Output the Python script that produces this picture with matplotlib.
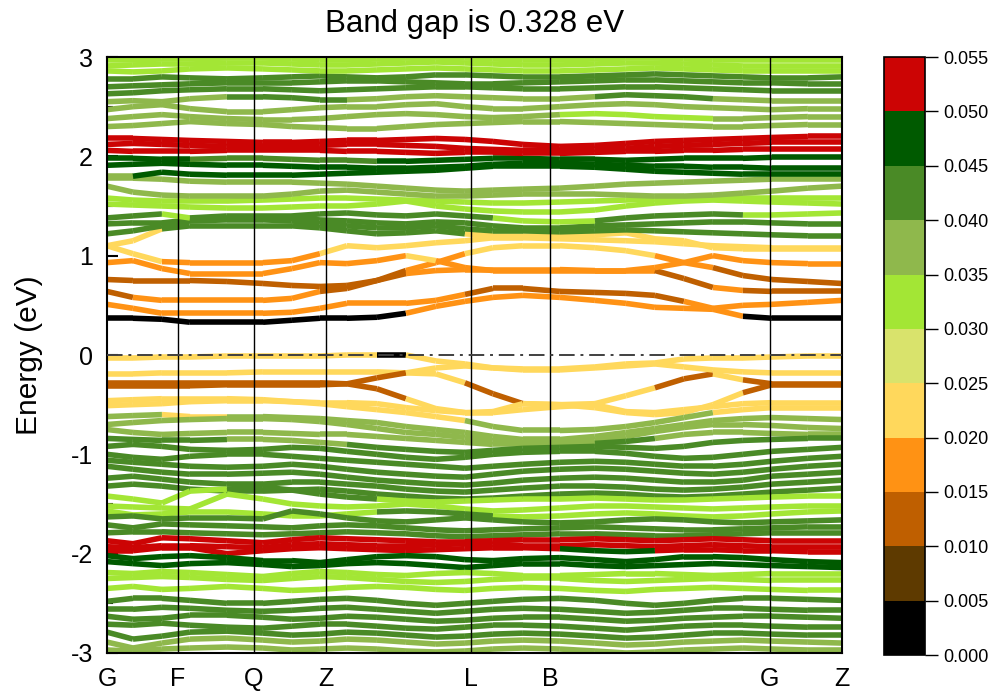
import numpy as np
import matplotlib.pyplot as plt
from matplotlib.collections import LineCollection
from matplotlib.colors import ListedColormap, BoundaryNorm
from matplotlib.cm import ScalarMappable
from matplotlib.ticker import MultipleLocator

plt.rcParams['font.family'] = ['Liberation Sans', 'DejaVu Sans']
plt.rcParams['axes.unicode_minus'] = False

# k-path sampling (path length along G-F-Q-Z-L-B-G-Z)
kdist = [0.00, 0.26, 0.55, 0.83, 1.20, 1.56, 1.85, 2.13, 2.40, 2.70, 2.99, 3.29, 3.58,
         3.86, 4.16, 4.53, 4.88, 5.19, 5.48, 5.77, 6.06, 6.36, 6.65, 7.01, 7.35]
kpoints = [0.00, 0.71, 1.47, 2.19, 3.64, 4.43, 6.63, 7.35]
klabels = ['G', 'F', 'Q', 'Z', 'L', 'B', 'G', 'Z']

weight_bounds = [0.000, 0.005, 0.010, 0.015, 0.020, 0.025, 0.030,
                 0.035, 0.040, 0.045, 0.050, 0.055]
weight_colors = ['#000000', '#5E3A00', '#BF5F00', '#FF9214', '#FFD85C', '#D9E36C',
                 '#A3E635', '#8FB84C', '#4A8A26', '#005A00', '#CC0404']
# one letter per segment -> projected weight (middle of its colour bin)
code_weight = {'k': 0.0025, 'd': 0.0075, 'b': 0.0125, 'o': 0.0175, 'y': 0.0225,
               'l': 0.0275, 'L': 0.0325, 'v': 0.0375, 'g': 0.0425, 'G': 0.0475,
               'r': 0.0525}

# conduction bands (eV) and weight codes of the 24 segments
cond_bands = [
    [0.37, 0.37, 0.36, 0.33, 0.33, 0.33, 0.35, 0.37, 0.37, 0.38, 0.42, 0.49, 0.54,
     0.58, 0.60, 0.58, 0.55, 0.52, 0.48, 0.47, 0.46, 0.39, 0.37, 0.37, 0.37],
    [0.51, 0.47, 0.42, 0.42, 0.42, 0.42, 0.43, 0.47, 0.52, 0.52, 0.52, 0.55, 0.61,
     0.67, 0.67, 0.64, 0.63, 0.62, 0.60, 0.54, 0.47, 0.50, 0.51, 0.53, 0.55],
    [0.64, 0.58, 0.55, 0.55, 0.55, 0.55, 0.57, 0.64, 0.67, 0.75, 0.85, 0.93, 1.02,
     1.08, 1.10, 1.10, 1.08, 1.05, 1.00, 0.93, 0.88, 0.80, 0.76, 0.74, 0.72],
    [0.76, 0.75, 0.75, 0.75, 0.74, 0.72, 0.70, 0.69, 0.70, 0.75, 0.82, 0.85, 0.86,
     0.86, 0.86, 0.86, 0.85, 0.85, 0.85, 0.77, 0.68, 0.65, 0.64, 0.64, 0.64],
    [0.93, 0.95, 0.87, 0.82, 0.82, 0.82, 0.87, 0.93, 0.92, 0.95, 1.00, 0.95, 0.88,
     0.85, 0.85, 0.85, 0.85, 0.85, 0.88, 0.93, 1.00, 0.95, 0.93, 0.92, 0.92],
    [1.10, 1.02, 0.94, 0.93, 0.93, 0.93, 0.95, 1.02, 1.10, 1.08, 1.10, 1.13, 1.15,
     1.18, 1.18, 1.17, 1.16, 1.15, 1.14, 1.12, 1.10, 1.09, 1.08, 1.08, 1.08],
    [1.10, 1.15, 1.27, 1.30, 1.30, 1.30, 1.30, 1.28, 1.25, 1.22, 1.23, 1.25, 1.22,
     1.20, 1.20, 1.20, 1.21, 1.23, 1.17, 1.15, 1.08, 1.07, 1.07, 1.07, 1.07],
    [1.22, 1.25, 1.30, 1.35, 1.36, 1.36, 1.35, 1.32, 1.30, 1.28, 1.28, 1.30, 1.27,
     1.25, 1.25, 1.24, 1.25, 1.26, 1.25, 1.24, 1.23, 1.22, 1.21, 1.20, 1.20],
    [1.32, 1.33, 1.33, 1.36, 1.38, 1.38, 1.38, 1.36, 1.35, 1.33, 1.32, 1.34, 1.33,
     1.30, 1.28, 1.28, 1.30, 1.31, 1.32, 1.33, 1.34, 1.34, 1.33, 1.32, 1.32],
    [1.38, 1.40, 1.42, 1.38, 1.40, 1.40, 1.40, 1.42, 1.43, 1.41, 1.40, 1.42, 1.40,
     1.38, 1.35, 1.34, 1.35, 1.38, 1.40, 1.41, 1.42, 1.41, 1.41, 1.42, 1.43],
    [1.52, 1.51, 1.50, 1.49, 1.48, 1.48, 1.49, 1.50, 1.50, 1.52, 1.55, 1.50, 1.47,
     1.45, 1.44, 1.44, 1.46, 1.50, 1.53, 1.55, 1.56, 1.55, 1.54, 1.53, 1.52],
    [1.58, 1.56, 1.55, 1.55, 1.55, 1.56, 1.57, 1.58, 1.58, 1.57, 1.56, 1.55, 1.54,
     1.53, 1.53, 1.54, 1.55, 1.56, 1.57, 1.58, 1.58, 1.58, 1.58, 1.58, 1.58],
    [1.70, 1.64, 1.61, 1.60, 1.60, 1.60, 1.62, 1.65, 1.66, 1.64, 1.62, 1.60, 1.60,
     1.61, 1.62, 1.62, 1.62, 1.61, 1.60, 1.60, 1.61, 1.63, 1.65, 1.68, 1.70],
    [1.78, 1.78, 1.77, 1.75, 1.74, 1.74, 1.74, 1.73, 1.72, 1.70, 1.68, 1.66, 1.65,
     1.66, 1.67, 1.68, 1.70, 1.72, 1.73, 1.74, 1.75, 1.76, 1.77, 1.77, 1.77],
    [1.80, 1.80, 1.84, 1.82, 1.81, 1.81, 1.81, 1.82, 1.83, 1.84, 1.85, 1.86, 1.88,
     1.90, 1.90, 1.90, 1.89, 1.87, 1.85, 1.84, 1.83, 1.82, 1.82, 1.82, 1.82],
    [1.91, 1.92, 1.93, 1.92, 1.91, 1.91, 1.90, 1.89, 1.89, 1.88, 1.88, 1.89, 1.90,
     1.92, 1.93, 1.93, 1.92, 1.91, 1.90, 1.90, 1.89, 1.89, 1.88, 1.88, 1.88],
    [1.98, 1.98, 1.97, 1.97, 1.98, 1.98, 1.97, 1.96, 1.96, 1.95, 1.95, 1.96, 1.97,
     1.98, 1.98, 1.97, 1.97, 1.96, 1.97, 1.98, 1.98, 1.98, 1.99, 1.99, 1.99],
    [2.06, 2.05, 2.05, 2.05, 2.06, 2.06, 2.06, 2.06, 2.05, 2.05, 2.04, 2.03, 2.04,
     2.04, 2.03, 2.03, 2.04, 2.05, 2.05, 2.06, 2.06, 2.07, 2.07, 2.07, 2.07],
    [2.12, 2.13, 2.12, 2.11, 2.10, 2.10, 2.10, 2.11, 2.12, 2.12, 2.11, 2.10, 2.08,
     2.07, 2.06, 2.06, 2.07, 2.08, 2.10, 2.11, 2.12, 2.13, 2.14, 2.14, 2.14],
    [2.18, 2.18, 2.17, 2.16, 2.15, 2.14, 2.14, 2.15, 2.16, 2.16, 2.17, 2.18, 2.17,
     2.15, 2.12, 2.10, 2.11, 2.13, 2.15, 2.16, 2.17, 2.18, 2.19, 2.20, 2.20],
    [2.30, 2.31, 2.33, 2.35, 2.33, 2.32, 2.30, 2.29, 2.28, 2.28, 2.30, 2.32, 2.33,
     2.34, 2.35, 2.35, 2.34, 2.33, 2.32, 2.31, 2.30, 2.30, 2.31, 2.32, 2.32],
    [2.38, 2.40, 2.42, 2.40, 2.38, 2.37, 2.37, 2.38, 2.40, 2.42, 2.43, 2.42, 2.40,
     2.39, 2.40, 2.42, 2.43, 2.42, 2.40, 2.39, 2.38, 2.38, 2.39, 2.40, 2.40],
    [2.47, 2.50, 2.52, 2.48, 2.45, 2.45, 2.47, 2.49, 2.50, 2.50, 2.52, 2.53, 2.50,
     2.48, 2.48, 2.50, 2.52, 2.53, 2.52, 2.50, 2.49, 2.48, 2.47, 2.48, 2.48],
    [2.55, 2.56, 2.55, 2.58, 2.60, 2.60, 2.59, 2.57, 2.57, 2.58, 2.60, 2.61, 2.60,
     2.59, 2.58, 2.58, 2.60, 2.62, 2.61, 2.60, 2.58, 2.57, 2.56, 2.56, 2.56],
    [2.63, 2.64, 2.66, 2.67, 2.68, 2.68, 2.67, 2.66, 2.67, 2.68, 2.69, 2.70, 2.70,
     2.69, 2.68, 2.68, 2.69, 2.70, 2.70, 2.69, 2.68, 2.67, 2.66, 2.66, 2.66],
    [2.70, 2.71, 2.72, 2.73, 2.74, 2.74, 2.74, 2.75, 2.76, 2.76, 2.75, 2.74, 2.73,
     2.73, 2.74, 2.75, 2.76, 2.77, 2.77, 2.76, 2.75, 2.74, 2.74, 2.73, 2.73],
    [2.78, 2.78, 2.80, 2.79, 2.78, 2.79, 2.80, 2.81, 2.80, 2.79, 2.80, 2.82, 2.82,
     2.81, 2.80, 2.80, 2.81, 2.82, 2.83, 2.82, 2.81, 2.80, 2.79, 2.79, 2.80],
    [2.86, 2.85, 2.86, 2.88, 2.89, 2.88, 2.87, 2.86, 2.86, 2.87, 2.88, 2.89, 2.88,
     2.87, 2.86, 2.86, 2.87, 2.88, 2.89, 2.88, 2.87, 2.86, 2.86, 2.86, 2.86],
    [2.91, 2.92, 2.93, 2.93, 2.94, 2.94, 2.93, 2.92, 2.92, 2.93, 2.94, 2.95, 2.94,
     2.93, 2.92, 2.92, 2.93, 2.94, 2.94, 2.93, 2.92, 2.91, 2.91, 2.91, 2.91],
    [2.97, 2.97, 2.98, 2.98, 2.99, 2.99, 2.98, 2.97, 2.97, 2.98, 2.99, 3.00, 2.99,
     2.98, 2.97, 2.97, 2.98, 2.99, 2.99, 2.98, 2.97, 2.97, 2.97, 2.97, 2.97],
]
cond_codes = [
    'kkkkkkkkkkoooooooooookkk',
    'oooooooooooobbbbbbbooooo',
    'boooooobbbooyyyyyyoobbbb',
    'bbbbbbbbbboooooooobbobbb',
    'ooooooooooyooooooooooooo',
    'yyoooooyyyyyyyyyyyyyyyyy',
    'yyggggggggggyyyyyyyyyyyy',
    'gggggggggggggggggggggggg',
    'gggggggggggggggggggggggg',
    'ggLggggggggggLLLgggggLLL',
    'LLLLLLLLLLLLLLLLLLLLLLLL',
    'LLLLLLLLLLLLLLLLLLLLLLLL',
    'vvvvvvvvvvvvvvvvvvvvvvvv',
    'vvvvvvvvvvvvvvvvvvvvvvvv',
    'vGGGGGGGGGGGGGGGGGGGGGGG',
    'GGGGGGGGGGGGGGGGGGGGGGGG',
    'GGGggggggGGGGGGGGGGGGGGG',
    'rrrrrrrrrrrrrrrrrrrrrrrr',
    'rrrrrrrrrrrrrrrrrrrrrrrr',
    'rrrrrrrrrrrrrrrrrrrrrrrr',
    'vvvvvvvvvvvvvvvvvvvvvvvv',
    'vvvvvvvvvvvvvvvLLLLLvvvv',
    'vvvvvvvvvvvvvvvvvvvvvvvv',
    'vvvvggggvvvvvvvvggggvvvv',
    'gggggggggggggggggggggggg',
    'gggggggggggggggggggggggg',
    'gggggggggggggggggggggggg',
    'LLLLLLLLLLLLLLLLLLLLLLLL',
    'LLLLLLLLLLLLLLLLLLLLLLLL',
    'LLLLLLLLLLLLLLLLLLLLLLLL',
]

# valence bands (eV) and weight codes
val_bands = [
    [-0.03, -0.03, -0.02, -0.02, -0.01, -0.01, -0.01, -0.01, 0.00, 0.00, 0.00, -0.06, -0.09,
     -0.13, -0.14, -0.14, -0.12, -0.09, -0.08, -0.04, -0.03, -0.03, -0.02, -0.01, -0.01],
    [-0.19, -0.19, -0.18, -0.18, -0.18, -0.17, -0.17, -0.17, -0.17, -0.17, -0.18, -0.19, -0.28,
     -0.39, -0.49, -0.50, -0.49, -0.41, -0.33, -0.24, -0.19, -0.25, -0.29, -0.29, -0.29],
    [-0.28, -0.28, -0.28, -0.28, -0.28, -0.28, -0.28, -0.28, -0.29, -0.23, -0.18, -0.13, -0.11,
     -0.13, -0.15, -0.15, -0.13, -0.11, -0.09, -0.12, -0.15, -0.17, -0.18, -0.18, -0.18],
    [-0.31, -0.31, -0.31, -0.31, -0.30, -0.30, -0.30, -0.30, -0.29, -0.34, -0.44, -0.54, -0.58,
     -0.58, -0.55, -0.52, -0.50, -0.57, -0.58, -0.55, -0.52, -0.49, -0.48, -0.48, -0.48],
    [-0.46, -0.45, -0.44, -0.44, -0.44, -0.45, -0.47, -0.48, -0.48, -0.49, -0.53, -0.56, -0.58,
     -0.57, -0.49, -0.50, -0.53, -0.58, -0.60, -0.58, -0.50, -0.38, -0.30, -0.30, -0.30],
    [-0.51, -0.50, -0.49, -0.47, -0.46, -0.46, -0.47, -0.49, -0.52, -0.55, -0.58, -0.62, -0.66,
     -0.72, -0.76, -0.76, -0.75, -0.72, -0.68, -0.63, -0.58, -0.55, -0.53, -0.53, -0.53],
    [-0.62, -0.61, -0.60, -0.62, -0.62, -0.62, -0.63, -0.64, -0.66, -0.68, -0.72, -0.75, -0.78,
     -0.82, -0.85, -0.85, -0.82, -0.78, -0.74, -0.70, -0.66, -0.64, -0.63, -0.64, -0.65],
    [-0.70, -0.68, -0.66, -0.65, -0.64, -0.64, -0.65, -0.67, -0.70, -0.74, -0.78, -0.80, -0.83,
     -0.86, -0.88, -0.88, -0.86, -0.82, -0.77, -0.73, -0.70, -0.70, -0.71, -0.73, -0.74],
    [-0.75, -0.78, -0.80, -0.79, -0.78, -0.78, -0.79, -0.80, -0.80, -0.82, -0.84, -0.86, -0.88,
     -0.90, -0.90, -0.90, -0.89, -0.87, -0.84, -0.80, -0.78, -0.78, -0.79, -0.80, -0.80],
    [-0.84, -0.85, -0.86, -0.86, -0.85, -0.85, -0.86, -0.88, -0.90, -0.93, -0.95, -0.97, -0.98,
     -0.96, -0.94, -0.93, -0.92, -0.93, -0.94, -0.92, -0.88, -0.86, -0.85, -0.84, -0.84],
    [-0.92, -0.90, -0.92, -0.95, -0.96, -0.95, -0.93, -0.94, -0.97, -1.00, -1.03, -1.05, -1.03,
     -1.00, -0.98, -0.97, -0.97, -0.99, -1.02, -1.04, -1.03, -1.00, -0.97, -0.95, -0.93],
    [-1.00, -1.03, -1.05, -1.02, -1.00, -1.00, -1.02, -1.04, -1.06, -1.08, -1.10, -1.12, -1.14,
     -1.12, -1.10, -1.08, -1.07, -1.08, -1.10, -1.12, -1.12, -1.10, -1.07, -1.04, -1.02],
    [-1.06, -1.08, -1.10, -1.12, -1.13, -1.12, -1.10, -1.12, -1.15, -1.18, -1.20, -1.22, -1.23,
     -1.20, -1.17, -1.15, -1.14, -1.15, -1.17, -1.19, -1.20, -1.18, -1.15, -1.12, -1.10],
    [-1.12, -1.15, -1.18, -1.20, -1.20, -1.19, -1.18, -1.20, -1.23, -1.26, -1.28, -1.30, -1.31,
     -1.29, -1.26, -1.24, -1.23, -1.24, -1.26, -1.28, -1.28, -1.26, -1.22, -1.20, -1.18],
    [-1.24, -1.22, -1.25, -1.28, -1.30, -1.30, -1.28, -1.28, -1.30, -1.32, -1.35, -1.37, -1.38,
     -1.36, -1.34, -1.32, -1.32, -1.33, -1.35, -1.36, -1.35, -1.33, -1.30, -1.28, -1.26],
    [-1.32, -1.30, -1.32, -1.35, -1.37, -1.37, -1.36, -1.35, -1.37, -1.40, -1.42, -1.44, -1.45,
     -1.44, -1.42, -1.40, -1.39, -1.40, -1.42, -1.43, -1.42, -1.40, -1.38, -1.36, -1.34],
    [-1.42, -1.45, -1.49, -1.37, -1.35, -1.33, -1.36, -1.40, -1.43, -1.45, -1.47, -1.48, -1.47,
     -1.46, -1.45, -1.45, -1.44, -1.45, -1.46, -1.46, -1.45, -1.44, -1.43, -1.42, -1.42],
    [-1.52, -1.53, -1.54, -1.55, -1.40, -1.45, -1.50, -1.52, -1.53, -1.52, -1.50, -1.52, -1.55,
     -1.57, -1.56, -1.54, -1.52, -1.52, -1.53, -1.54, -1.55, -1.54, -1.53, -1.52, -1.52],
    [-1.57, -1.61, -1.60, -1.58, -1.58, -1.60, -1.62, -1.62, -1.60, -1.58, -1.57, -1.58, -1.60,
     -1.62, -1.63, -1.62, -1.60, -1.59, -1.60, -1.62, -1.63, -1.62, -1.60, -1.58, -1.57],
    [-1.63, -1.62, -1.65, -1.64, -1.64, -1.65, -1.57, -1.60, -1.64, -1.67, -1.68, -1.66, -1.64,
     -1.66, -1.68, -1.69, -1.68, -1.66, -1.65, -1.66, -1.68, -1.69, -1.68, -1.67, -1.66],
    [-1.71, -1.74, -1.70, -1.71, -1.72, -1.73, -1.74, -1.72, -1.71, -1.72, -1.74, -1.76, -1.77,
     -1.76, -1.75, -1.74, -1.73, -1.74, -1.75, -1.76, -1.76, -1.75, -1.74, -1.73, -1.73],
    [-1.79, -1.78, -1.78, -1.79, -1.80, -1.81, -1.80, -1.79, -1.78, -1.79, -1.80, -1.82, -1.83,
     -1.82, -1.81, -1.80, -1.80, -1.81, -1.82, -1.82, -1.81, -1.80, -1.79, -1.79, -1.79],
    [-1.87, -1.90, -1.84, -1.85, -1.87, -1.89, -1.86, -1.84, -1.85, -1.86, -1.87, -1.88, -1.88,
     -1.87, -1.86, -1.86, -1.85, -1.86, -1.87, -1.86, -1.85, -1.86, -1.87, -1.87, -1.87],
    [-1.93, -1.94, -1.92, -1.92, -1.93, -1.94, -1.91, -1.90, -1.91, -1.92, -1.92, -1.91, -1.90,
     -1.91, -1.92, -1.92, -1.91, -1.92, -1.93, -1.92, -1.91, -1.92, -1.93, -1.93, -1.93],
    [-1.97, -1.97, -1.94, -1.94, -2.00, -1.97, -1.95, -1.94, -1.95, -1.96, -1.97, -1.96, -1.95,
     -1.94, -1.94, -1.95, -1.97, -1.98, -1.97, -1.96, -1.96, -1.97, -1.97, -1.98, -1.98],
    [-2.02, -2.05, -2.03, -2.02, -2.04, -2.07, -2.07, -2.09, -2.06, -2.03, -2.02, -2.03, -2.06,
     -2.07, -2.05, -2.04, -2.06, -2.08, -2.06, -2.03, -2.03, -2.04, -2.06, -2.08, -2.09],
    [-2.08, -2.10, -2.12, -2.10, -2.09, -2.11, -2.13, -2.12, -2.10, -2.09, -2.10, -2.12, -2.14,
     -2.12, -2.10, -2.10, -2.12, -2.13, -2.12, -2.11, -2.10, -2.11, -2.12, -2.13, -2.14],
    [-2.19, -2.20, -2.18, -2.19, -2.21, -2.23, -2.20, -2.18, -2.19, -2.21, -2.22, -2.20, -2.19,
     -2.20, -2.22, -2.22, -2.21, -2.20, -2.20, -2.21, -2.22, -2.21, -2.20, -2.20, -2.20],
    [-2.25, -2.24, -2.23, -2.24, -2.26, -2.27, -2.25, -2.23, -2.24, -2.26, -2.28, -2.29, -2.28,
     -2.26, -2.25, -2.25, -2.27, -2.28, -2.27, -2.26, -2.25, -2.26, -2.27, -2.27, -2.27],
    [-2.35, -2.33, -2.36, -2.35, -2.33, -2.35, -2.37, -2.36, -2.34, -2.33, -2.34, -2.36, -2.37,
     -2.35, -2.34, -2.35, -2.37, -2.38, -2.36, -2.35, -2.34, -2.35, -2.36, -2.37, -2.37],
    [-2.48, -2.45, -2.45, -2.47, -2.50, -2.50, -2.48, -2.46, -2.45, -2.47, -2.50, -2.52, -2.50,
     -2.48, -2.46, -2.45, -2.47, -2.50, -2.52, -2.50, -2.47, -2.45, -2.45, -2.46, -2.47],
    [-2.56, -2.56, -2.54, -2.55, -2.57, -2.58, -2.57, -2.55, -2.54, -2.56, -2.58, -2.60, -2.58,
     -2.56, -2.55, -2.56, -2.58, -2.60, -2.59, -2.57, -2.55, -2.55, -2.56, -2.57, -2.57],
    [-2.63, -2.66, -2.65, -2.62, -2.62, -2.64, -2.66, -2.65, -2.63, -2.64, -2.66, -2.68, -2.67,
     -2.65, -2.64, -2.64, -2.66, -2.68, -2.67, -2.65, -2.64, -2.63, -2.63, -2.64, -2.65],
    [-2.71, -2.72, -2.70, -2.72, -2.74, -2.75, -2.73, -2.71, -2.71, -2.73, -2.75, -2.76, -2.74,
     -2.72, -2.72, -2.73, -2.75, -2.77, -2.75, -2.73, -2.72, -2.72, -2.73, -2.74, -2.74],
    [-2.79, -2.86, -2.83, -2.79, -2.78, -2.80, -2.82, -2.81, -2.79, -2.80, -2.82, -2.84, -2.83,
     -2.81, -2.80, -2.81, -2.83, -2.85, -2.84, -2.82, -2.80, -2.80, -2.81, -2.82, -2.82],
    [-2.89, -2.95, -2.90, -2.86, -2.85, -2.87, -2.89, -2.88, -2.86, -2.87, -2.89, -2.91, -2.90,
     -2.88, -2.87, -2.88, -2.90, -2.92, -2.91, -2.89, -2.88, -2.87, -2.88, -2.89, -2.90],
    [-2.97, -2.98, -2.96, -2.95, -2.94, -2.95, -2.97, -2.96, -2.95, -2.96, -2.98, -2.99, -2.98,
     -2.96, -2.95, -2.96, -2.98, -3.00, -2.99, -2.97, -2.96, -2.95, -2.96, -2.97, -2.97],
]
val_codes = [
    'yyyyyyyyykyyyyyyyyyyyyyy',
    'yyyyyyyyyyyybbyyyybbybbb',
    'bbbbbbbbbbyyyyyyyyyyyyyy',
    'bbbbbbbbbbyyyyyyyyyyyyyy',
    'yyyyyyyyyyyyyyyyyyyyybbb',
    'yyyyyyyyyyyyvvvvvvvvyyyy',
    'vvyyvvvvvvvvvvvvvvvvvvvv',
    'vvvvvvvvvvvvvvvvvvvvvvvv',
    'vvvvvvvvvvvvvvvvggvvvvvv',
    'ggggvvvvgggggggggggggggg',
    'gggggggggggggggggggggggg',
    'gggggggggggggggggggggggg',
    'gggggggggggggggggggggggg',
    'gggggggggggggggggggggggg',
    'gggggggggggggggggggggggg',
    'gggggggggggggggggggggggg',
    'LLLLgggggLLLLLLLLLLLLLLL',
    'LLLLLLLLLLLLLLLLLLLLLLLL',
    'LLLLLLLLLggggLLLLLLLLLLL',
    'gggggggggggggggggggggggg',
    'gggggggggggggggggggggggg',
    'gggggggggggggggggggggggg',
    'rrrrrrrrrrrrrrrrrrrrrrrr',
    'rrrrrrrrrrrrrrrrrrrrrrrr',
    'rrrrrrrrrrrrrrrGGGrrrrrr',
    'GGGGGGGGGGGGGGGGGGGGGGGG',
    'GGGGGGGGGGGGGGGGGGGGGGGG',
    'LLLLLLLLLLLLLLLLLLLLLLLL',
    'LLLLLLLLLLLLLLLLLLLLLLLL',
    'LLLLLLLLLLLLLLLLLLLLLLLL',
    'gggggggggggggggggggggggg',
    'gggggggggggggggggggggggg',
    'gggggggggggggggggggggggg',
    'gggggggggggggggggggggggg',
    'gggggggggggggggggggggggg',
    'vvvvvvvvvvvvvvvvvvvvvvvv',
    'vvvvvvvvvvvvvvvvvvvvvvvv',
]

cmap = ListedColormap(weight_colors)
norm = BoundaryNorm(weight_bounds, cmap.N)

fig = plt.figure(figsize=(9.94, 6.91), dpi=100)
ax = fig.add_axes([0.1076, 0.055, 0.7394, 0.8625])
cax = fig.add_axes([0.8893, 0.052, 0.0413, 0.8654])

k = np.array(kdist)
for energies, codes in zip(cond_bands + val_bands, cond_codes + val_codes):
    assert len(codes) == len(energies) - 1, (codes, len(codes))
    pts = np.column_stack([k, energies])
    segs = np.stack([pts[:-1], pts[1:]], axis=1)
    lc = LineCollection(segs, cmap=cmap, norm=norm, linewidths=4.0,
                        capstyle='butt', zorder=2)
    lc.set_array(np.array([code_weight[c] for c in codes]))
    ax.add_collection(lc)

for kp in kpoints[1:-1]:
    ax.axvline(kp, color='black', lw=1.0, zorder=3)
ax.axhline(0, color='#404040', lw=1.4, ls=(0, (8, 3, 1.5, 3)), zorder=3)

ax.set_xlim(kpoints[0], kpoints[-1])
ax.set_ylim(-3, 3)
ax.set_xticks(kpoints)
ax.set_xticklabels(klabels)
ax.tick_params(axis='x', length=0, pad=10, labelsize=18)
ax.yaxis.set_major_locator(MultipleLocator(1))
ax.yaxis.set_minor_locator(MultipleLocator(0.5))
ax.tick_params(axis='y', which='major', direction='in', length=8, width=1.5,
               labelsize=18, pad=10)
ax.tick_params(axis='y', which='minor', direction='in', length=4, width=1.5)
for sp in ax.spines.values():
    sp.set_linewidth(1.5)
ax.set_ylabel('Energy (eV)', fontsize=21.5, labelpad=20)
ax.set_title('Band gap is 0.328 eV', fontsize=22.5, pad=18)

cb = fig.colorbar(ScalarMappable(norm=norm, cmap=cmap), cax=cax, ticks=weight_bounds)
cb.ax.set_yticklabels(['%.3f' % b for b in weight_bounds])
cb.ax.tick_params(direction='out', length=9, width=1.0, labelsize=13, pad=4)
cb.outline.set_linewidth(1.2)

fig.savefig('out.png', dpi=100)
